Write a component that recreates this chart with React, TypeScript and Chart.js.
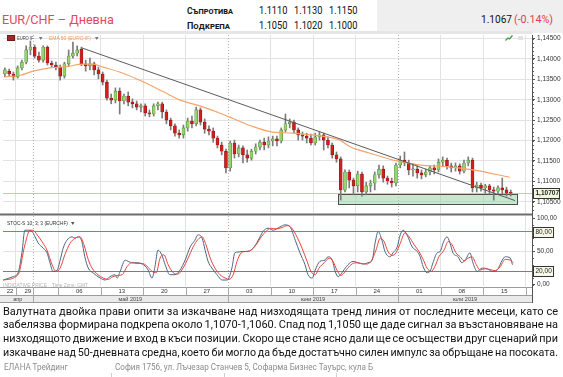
import React, { useEffect, useLayoutEffect, useRef } from 'react';
import { Chart, registerables } from 'chart.js';
Chart.register(...registerables);

const AXIS_FONT = '"Liberation Sans", Arial, sans-serif';
const TEXT_FONT = 'Roboto, "Noto Sans", sans-serif';

// ---------------- data ----------------
const opens = [
  1.1363, 1.1370, 1.1363, 1.1356, 1.1378, 1.1392, 1.1422, 1.1429, 1.1407, 1.1397,
  1.1429, 1.1390, 1.1385, 1.1380, 1.1358, 1.1388, 1.1407, 1.1414, 1.1424, 1.1388,
  1.1383, 1.1388, 1.1373, 1.1363, 1.1343, 1.1304, 1.1299, 1.1321, 1.1297, 1.1309,
  1.1294, 1.1290, 1.1282, 1.1285, 1.1268, 1.1265, 1.1285, 1.1290, 1.1270, 1.1250,
  1.1236, 1.1218, 1.1214, 1.1231, 1.1248, 1.1241, 1.1275, 1.1245, 1.1228, 1.1223,
  1.1206, 1.1189, 1.1174, 1.1133, 1.1194, 1.1167, 1.1182, 1.1165, 1.1157, 1.1174,
  1.1184, 1.1196, 1.1189, 1.1199, 1.1204, 1.1199, 1.1226, 1.1241, 1.1245, 1.1226,
  1.1214, 1.1211, 1.1206, 1.1194, 1.1209, 1.1214, 1.1201, 1.1189, 1.1165, 1.1155,
  1.1079, 1.1123, 1.1103, 1.1089, 1.1118, 1.1074, 1.1089, 1.1096, 1.1116, 1.1130,
  1.1108, 1.1101, 1.1096, 1.1140, 1.1152, 1.1145, 1.1128, 1.1130, 1.1121, 1.1116,
  1.1123, 1.1133, 1.1128, 1.1147, 1.1152, 1.1138, 1.1133, 1.1138, 1.1125, 1.1145,
  1.1152, 1.1084, 1.1091, 1.1084, 1.1089, 1.1079, 1.1076, 1.1084, 1.1079, 1.1074,
];
const highs = [
  1.1378, 1.1375, 1.1368, 1.1383, 1.1397, 1.1432, 1.1444, 1.1434, 1.1417, 1.1432,
  1.1432, 1.1395, 1.1392, 1.1385, 1.1392, 1.1422, 1.1441, 1.1432, 1.1429, 1.1397,
  1.1402, 1.1392, 1.1380, 1.1368, 1.1348, 1.1314, 1.1329, 1.1329, 1.1314, 1.1319,
  1.1302, 1.1297, 1.1290, 1.1290, 1.1275, 1.1290, 1.1294, 1.1294, 1.1275, 1.1255,
  1.1241, 1.1226, 1.1238, 1.1255, 1.1260, 1.1282, 1.1280, 1.1253, 1.1236, 1.1231,
  1.1211, 1.1196, 1.1179, 1.1199, 1.1201, 1.1189, 1.1187, 1.1177, 1.1179, 1.1192,
  1.1201, 1.1206, 1.1209, 1.1211, 1.1211, 1.1231, 1.1265, 1.1253, 1.1250, 1.1231,
  1.1221, 1.1218, 1.1216, 1.1218, 1.1221, 1.1218, 1.1209, 1.1194, 1.1172, 1.1160,
  1.1128, 1.1128, 1.1108, 1.1125, 1.1123, 1.1098, 1.1103, 1.1123, 1.1140, 1.1138,
  1.1113, 1.1108, 1.1145, 1.1162, 1.1172, 1.1152, 1.1143, 1.1138, 1.1128, 1.1130,
  1.1138, 1.1140, 1.1155, 1.1160, 1.1157, 1.1145, 1.1145, 1.1143, 1.1152, 1.1160,
  1.1157, 1.1098, 1.1096, 1.1093, 1.1093, 1.1086, 1.1089, 1.1108, 1.1086, 1.1079,
];
const lows = [
  1.1356, 1.1358, 1.1348, 1.1353, 1.1373, 1.1388, 1.1410, 1.1402, 1.1392, 1.1392,
  1.1385, 1.1380, 1.1373, 1.1348, 1.1353, 1.1383, 1.1402, 1.1407, 1.1383, 1.1370,
  1.1373, 1.1361, 1.1351, 1.1336, 1.1299, 1.1290, 1.1292, 1.1265, 1.1290, 1.1285,
  1.1280, 1.1275, 1.1270, 1.1260, 1.1258, 1.1260, 1.1275, 1.1255, 1.1241, 1.1226,
  1.1211, 1.1206, 1.1206, 1.1223, 1.1231, 1.1236, 1.1238, 1.1218, 1.1214, 1.1196,
  1.1182, 1.1165, 1.1121, 1.1125, 1.1157, 1.1160, 1.1145, 1.1147, 1.1152, 1.1167,
  1.1177, 1.1177, 1.1182, 1.1187, 1.1187, 1.1194, 1.1221, 1.1231, 1.1218, 1.1201,
  1.1201, 1.1194, 1.1189, 1.1189, 1.1201, 1.1177, 1.1182, 1.1157, 1.1147, 1.1054,
  1.1074, 1.1084, 1.1067, 1.1074, 1.1064, 1.1067, 1.1074, 1.1079, 1.1108, 1.1098,
  1.1093, 1.1086, 1.1089, 1.1133, 1.1138, 1.1116, 1.1113, 1.1108, 1.1106, 1.1111,
  1.1116, 1.1118, 1.1123, 1.1138, 1.1130, 1.1123, 1.1125, 1.1118, 1.1121, 1.1138,
  1.1074, 1.1074, 1.1076, 1.1071, 1.1069, 1.1054, 1.1069, 1.1069, 1.1064, 1.1064,
];
const closes = [
  1.1373, 1.1363, 1.1356, 1.1378, 1.1392, 1.1422, 1.1429, 1.1407, 1.1397, 1.1429,
  1.1390, 1.1385, 1.1380, 1.1358, 1.1388, 1.1407, 1.1414, 1.1422, 1.1388, 1.1383,
  1.1388, 1.1373, 1.1363, 1.1343, 1.1304, 1.1299, 1.1321, 1.1297, 1.1309, 1.1294,
  1.1290, 1.1282, 1.1285, 1.1268, 1.1265, 1.1285, 1.1290, 1.1270, 1.1250, 1.1236,
  1.1218, 1.1214, 1.1231, 1.1248, 1.1241, 1.1275, 1.1245, 1.1228, 1.1223, 1.1206,
  1.1189, 1.1174, 1.1133, 1.1194, 1.1167, 1.1182, 1.1165, 1.1157, 1.1174, 1.1184,
  1.1196, 1.1189, 1.1199, 1.1204, 1.1199, 1.1226, 1.1241, 1.1245, 1.1226, 1.1214,
  1.1211, 1.1206, 1.1194, 1.1209, 1.1214, 1.1201, 1.1189, 1.1165, 1.1155, 1.1079,
  1.1123, 1.1103, 1.1089, 1.1118, 1.1074, 1.1089, 1.1096, 1.1116, 1.1130, 1.1108,
  1.1101, 1.1096, 1.1140, 1.1152, 1.1145, 1.1128, 1.1130, 1.1121, 1.1116, 1.1123,
  1.1133, 1.1128, 1.1147, 1.1152, 1.1138, 1.1133, 1.1138, 1.1125, 1.1145, 1.1152,
  1.1084, 1.1091, 1.1084, 1.1089, 1.1079, 1.1076, 1.1084, 1.1079, 1.1071, 1.1071,
];

const emaIdx = [0, 3.6, 6.6, 10.6, 14.6, 18.1, 20.7, 23.1, 27.8, 32.5, 37.2, 41.2, 45.9, 50.6, 53.7,
  58.4, 62.4, 67.8, 75.8, 78.8, 81.2, 85.9, 92.3, 97.7, 104.0, 110.1, 118.8];
const emaVal = [1.1356, 1.1360, 1.1370, 1.1378, 1.1381, 1.1387, 1.1387, 1.1380, 1.1365, 1.1344, 1.1320,
  1.1299, 1.1285, 1.1267, 1.1254, 1.1234, 1.1222, 1.1218, 1.1209, 1.1201, 1.1185, 1.1169, 1.1150,
  1.1140, 1.1136, 1.1128, 1.1110];

const trendIdx = [18.1, 120.0];
const trendVal = [1.1427, 1.1053];
const zoneIdx = [78.4, 120.5];
const zoneVal = [1.1044, 1.1069];
const lastPrice = 1.10707;
const priceTicks = [1.105, 1.11, 1.115, 1.12, 1.125, 1.13, 1.135, 1.14, 1.145];
const priceMin = 1.10225;
const priceMax = 1.14586;

const kIdx = [
  -0.4, 1.9, 3.1, 4.0, 4.7, 5.4, 6.4, 7.1, 7.8, 9.0,
  9.9, 10.6, 11.3, 12.3, 13.0, 13.7, 14.6, 15.8, 16.5, 17.2,
  18.1, 18.8, 19.6, 20.7, 22.4, 23.6, 24.7, 25.9, 26.4, 27.1,
  28.3, 29.0, 30.1, 31.3, 32.3, 33.0, 33.7, 34.6, 35.3, 36.0,
  36.9, 37.7, 38.8, 40.0, 41.2, 42.4, 43.6, 44.7, 45.4, 46.4,
  47.1, 47.8, 48.7, 49.9, 51.1, 52.3, 53.4, 54.1, 54.8, 55.8,
  57.2, 58.4, 59.6, 60.7, 61.9, 63.1, 64.7, 65.9, 67.1, 68.3,
  69.4, 70.6, 71.3, 72.3, 73.0, 74.1, 75.3, 76.0, 77.0, 77.7,
  78.4, 79.5, 80.7, 81.9, 83.1, 84.3, 85.4, 86.4, 87.1, 87.8,
  88.7, 89.4, 90.6, 91.3, 92.3, 93.0, 93.7, 94.6, 95.8, 97.0,
  97.7, 98.4, 99.3, 100.0, 100.7, 101.7, 102.4, 103.1, 104.0, 104.7,
  105.4, 106.6, 107.5, 108.3, 109.4, 110.1, 111.1, 112.3, 113.4, 114.6,
  115.8, 117.0, 117.7, 118.9, 119.4,
];
const kVal = [
  7, 12, 18, 48, 82, 82, 80, 72, 63, 55,
  48, 33, 20, 22, 37, 55, 67, 72, 70, 72,
  65, 42, 25, 18, 10, 7, 12, 15, 10, 20,
  37, 35, 33, 33, 31, 28, 22, 10, 27, 52,
  45, 30, 15, 15, 22, 37, 57, 67, 75, 70,
  52, 35, 25, 15, 7, 7, 25, 48, 49, 50,
  50, 55, 67, 80, 85, 82, 87, 90, 87, 67,
  48, 30, 15, 10, 22, 35, 37, 42, 37, 20,
  12, 20, 30, 35, 33, 31, 33, 37, 63, 80,
  67, 50, 42, 48, 57, 75, 82, 75, 57, 50,
  42, 27, 18, 20, 33, 48, 50, 63, 72, 63,
  48, 42, 33, 37, 48, 33, 20, 25, 24, 20,
  22, 37, 42, 40, 30,
];
const dIdx = [
  -0.4, 3.1, 4.7, 5.9, 6.6, 7.6, 8.7, 9.9, 11.1, 12.0,
  13.0, 14.1, 15.3, 16.5, 17.7, 18.6, 19.6, 20.5, 21.9, 23.1,
  24.3, 25.4, 26.6, 27.6, 28.7, 29.9, 31.1, 32.3, 33.4, 34.6,
  35.6, 36.5, 37.4, 38.4, 39.6, 40.7, 41.9, 43.1, 44.3, 45.4,
  46.4, 47.3, 48.3, 49.4, 50.6, 51.8, 52.7, 53.7, 54.6, 55.6,
  56.7, 57.9, 59.1, 60.3, 61.4, 62.6, 63.8, 65.2, 66.4, 67.5,
  68.7, 69.9, 71.1, 72.0, 73.0, 73.9, 75.1, 76.3, 77.2, 78.1,
  79.1, 80.3, 81.4, 82.6, 83.8, 85.0, 86.1, 87.3, 88.3, 89.2,
  90.1, 91.1, 92.0, 93.0, 94.1, 95.1, 96.3, 97.4, 98.4, 99.3,
  100.3, 101.2, 102.1, 103.3, 104.3, 105.2, 106.1, 107.1, 108.0, 109.0,
  109.9, 110.9, 111.8, 113.0, 114.1, 115.3, 116.5, 117.7, 118.9, 119.6,
];
const dVal = [
  7, 15, 60, 82, 82, 75, 65, 52, 30, 20,
  25, 45, 62, 70, 72, 60, 38, 25, 15, 10,
  8, 12, 14, 15, 27, 33, 32, 32, 28, 20,
  18, 40, 45, 30, 18, 16, 25, 40, 57, 68,
  72, 60, 40, 25, 15, 10, 8, 15, 35, 48,
  50, 52, 60, 72, 80, 85, 84, 86, 89, 85,
  72, 55, 35, 20, 15, 25, 33, 40, 35, 22,
  14, 22, 30, 33, 32, 31, 35, 52, 70, 65,
  50, 44, 48, 62, 78, 72, 60, 50, 38, 25,
  20, 28, 42, 52, 65, 60, 48, 42, 36, 40,
  42, 30, 22, 24, 23, 21, 27, 38, 37, 33,
];
const stochTicks = [0, 20, 50, 80, 100];
const stochBands = [80, 20];

const xMin = -0.45;
const xMax = 124.0;
const weekStarts = [2.5, 12.5, 22.5, 32.5, 42.5, 52.5, 62.5, 72.5, 82.5, 92.5, 102.5, 112.5, 122.5];
const monthStarts = [6.5, 52.5, 92.5];
const dateLabels = ['22', '29', '06', '13', '20', '27', '03', '10', '17', '24', '01', '08', '15'];
const dateLabelPos = [1.2, 5.4, 17.5, 27.5, 37.5, 47.5, 57.5, 67.5, 77.5, 87.5, 97.5, 107.5, 117.5];
const monthLabels = ['апр', 'май 2019', 'юни 2019', 'юли 2019'];

const resistance = ['1.1110', '1.1130', '1.1150'];
const support = ['1.1050', '1.1020', '1.1000'];
const lastQuote = '1.1067';
const lastChange = '(-0.14%)';
const paragraph = [
  'Валутната двойка прави опити за изкачване над низходящата тренд линия от последните месеци, като се',
  'забелязва формирана подкрепа около 1,1070-1,1060. Спад под 1,1050 ще даде сигнал за възстановяване на',
  'низходящото движение и вход в къси позиции. Скоро ще стане ясно дали ще се осъществи друг сценарий при',
  'изкачване над 50-дневната средна, което би могло да бъде достатъчно силен импулс за обръщане на посоката.',
];

// ---------------- helpers ----------------
function FitText(p: any) {
  const ref = useRef<HTMLSpanElement>(null);
  useLayoutEffect(() => {
    const el = ref.current;
    if (!el) return;
    el.style.transform = 'translateY(-50%)';
    const w = el.getBoundingClientRect().width;
    const s = w > 0 ? p.width / w : 1;
    el.style.transform = `translateY(-50%) scaleX(${s})`;
  }, [p.text, p.width]);
  return (
    <span
      ref={ref}
      style={{
        position: 'absolute', left: p.left, top: p.cy, whiteSpace: 'pre', fontSize: p.size,
        lineHeight: 1, color: p.color || '#222', fontWeight: p.weight || 400,
        fontFamily: p.family || TEXT_FONT, fontVariant: p.variant || 'normal', transformOrigin: '0 50%',
      }}
    >{p.text}</span>
  );
}

function JustLine(p: any) {
  const ref = useRef<HTMLSpanElement>(null);
  useLayoutEffect(() => {
    const el = ref.current;
    if (!el) return;
    el.style.wordSpacing = '0px';
    el.style.transform = 'translateY(-50%)';
    const w = el.getBoundingClientRect().width;
    const n = (p.text.match(/ /g) || []).length;
    if (w <= p.width && n > 0) {
      el.style.wordSpacing = `${(p.width - w) / n}px`;
    } else if (w > 0) {
      const ws = Math.max(-0.8, (p.width - w) / Math.max(n, 1));
      el.style.wordSpacing = `${ws}px`;
      const w2 = w + ws * n;
      el.style.transform = `translateY(-50%) scaleX(${p.width / w2})`;
    }
  }, [p.text, p.width]);
  return (
    <span
      ref={ref}
      style={{
        position: 'absolute', left: p.left, top: p.cy, whiteSpace: 'pre', fontSize: p.size,
        lineHeight: 1, color: p.color || '#111', fontFamily: TEXT_FONT, transformOrigin: '0 50%',
      }}
    >{p.text}</span>
  );
}

function hline(ctx: CanvasRenderingContext2D, x1: number, x2: number, y: number) {
  ctx.beginPath(); ctx.moveTo(x1, y); ctx.lineTo(x2, y); ctx.stroke();
}
function vline(ctx: CanvasRenderingContext2D, x: number, y1: number, y2: number) {
  ctx.beginPath(); ctx.moveTo(x, y1); ctx.lineTo(x, y2); ctx.stroke();
}

const gridColor = '#e2e2e2';
const xGrid = (c: any) => (c.tick && monthStarts.includes(c.tick.value) ? 'rgba(0,0,0,0)' : gridColor);

function drawMonthLines(chart: any) {
  const { ctx, chartArea: a, scales } = chart;
  ctx.save();
  ctx.strokeStyle = '#b0b0b0';
  ctx.lineWidth = 1;
  ctx.setLineDash([1, 2]);
  for (const m of monthStarts) {
    const px = Math.round(scales.x.getPixelForValue(m)) + 0.5;
    vline(ctx, px, a.top, a.bottom);
  }
  ctx.restore();
}

const mainDeco = {
  id: 'mainDeco',
  beforeDatasetsDraw(chart: any) {
    drawMonthLines(chart);
    const { ctx, chartArea: a, scales } = chart;
    const x = scales.x, y = scales.y;
    ctx.save();
    const py = Math.round(y.getPixelForValue(lastPrice)) + 0.5;
    ctx.strokeStyle = '#f1b3b3';
    ctx.lineWidth = 1;
    hline(ctx, a.left, a.right, py);
    const zl = Math.round(x.getPixelForValue(zoneIdx[0])) + 0.5;
    const zr = Math.round(x.getPixelForValue(zoneIdx[1])) + 0.5;
    const zt = Math.round(y.getPixelForValue(zoneVal[1])) + 0.5;
    const zb = Math.round(y.getPixelForValue(zoneVal[0])) + 0.5;
    ctx.fillStyle = 'rgba(150, 214, 168, 0.55)';
    ctx.fillRect(zl, zt, zr - zl, zb - zt);
    ctx.strokeStyle = '#4e4e4e';
    ctx.strokeRect(zl, zt, zr - zl, zb - zt);
    ctx.restore();
  },
  afterDraw(chart: any) {
    const { ctx, chartArea: a, scales } = chart;
    const y = scales.y;
    ctx.save();
    ctx.strokeStyle = '#555';
    ctx.lineWidth = 1;
    for (let v = Math.ceil(y.min * 1000); v <= Math.floor(y.max * 1000); v++) {
      const py = Math.round(y.getPixelForValue(v / 1000)) + 0.5;
      hline(ctx, a.right, a.right + 2, py);
    }
    ctx.fillStyle = '#6c6c6c';
    ctx.fillRect(0, a.bottom + 0.5, a.right, 2);
    ctx.fillStyle = '#555';
    ctx.fillRect(a.right, a.bottom, 1, chart.height - a.bottom);
    const py = y.getPixelForValue(lastPrice);
    const by = Math.round(py - 5) + 0.5;
    ctx.fillStyle = '#f1f7dd';
    ctx.fillRect(a.right + 1.5, by, 26, 10);
    ctx.strokeStyle = '#333';
    ctx.strokeRect(a.right + 1.5, by, 26, 10);
    ctx.fillStyle = '#222';
    ctx.font = `bold 6.5px ${AXIS_FONT}`;
    ctx.textAlign = 'left';
    ctx.textBaseline = 'middle';
    ctx.fillText(lastPrice.toFixed(5).replace('.', ','), a.right + 3.5, by + 5);
    ctx.restore();
  },
};

const stochDeco = {
  id: 'stochDeco',
  beforeDatasetsDraw(chart: any) {
    drawMonthLines(chart);
  },
  afterDraw(chart: any) {
    const { ctx, chartArea: a, scales } = chart;
    const x = scales.x, y = scales.y;
    ctx.save();
    ctx.font = `6.5px ${AXIS_FONT}`;
    ctx.textAlign = 'left';
    ctx.textBaseline = 'middle';
    for (const v of stochBands) {
      const by = Math.round(y.getPixelForValue(v) - 5) + 0.5;
      ctx.fillStyle = '#f8f8e6';
      ctx.fillRect(a.right + 1.5, by, 20, 10);
      ctx.strokeStyle = '#333';
      ctx.lineWidth = 1;
      ctx.strokeRect(a.right + 1.5, by, 20, 10);
      ctx.fillStyle = '#222';
      ctx.fillText(v.toFixed(2).replace('.', ','), a.right + 3.5, by + 5);
    }
    // minor ticks on the oscillator axis
    ctx.strokeStyle = '#555';
    for (let v = 0; v <= 100; v += 10) {
      const py = Math.round(y.getPixelForValue(v)) + 0.5;
      hline(ctx, a.right, a.right + 2, py);
    }
    // time axis rows
    const r0 = Math.round(a.bottom) + 1;
    const r1 = r0 + 8;
    const r2 = r1 + 7;
    ctx.fillStyle = '#ffffff';
    ctx.fillRect(0, r0, a.right, 8);
    ctx.fillStyle = '#eaeaea';
    ctx.fillRect(0, r1, a.right, 7);
    ctx.strokeStyle = '#9c9c9c';
    hline(ctx, 0, a.right, r0 + 0.5);
    hline(ctx, 0, a.right, r1 + 0.5);
    hline(ctx, 0, a.right, r2 + 0.5);
    ctx.strokeStyle = '#a8a8a8';
    for (const w of weekStarts) {
      const px = Math.round(x.getPixelForValue(w)) + 0.5;
      if (px < a.right) vline(ctx, px, r0, r1);
    }
    for (const m of monthStarts) {
      const px = Math.round(x.getPixelForValue(m)) + 0.5;
      vline(ctx, px, r0, r2);
    }
    ctx.fillStyle = '#333';
    ctx.textAlign = 'center';
    ctx.font = `6px ${AXIS_FONT}`;
    dateLabels.forEach((t, k) => ctx.fillText(t, x.getPixelForValue(dateLabelPos[k]), (r0 + r1) / 2 + 0.5));
    const bounds = [xMin, ...monthStarts, xMax];
    ctx.font = `5.5px ${AXIS_FONT}`;
    ctx.fillStyle = '#444';
    monthLabels.forEach((t, k) => {
      const cx = (x.getPixelForValue(bounds[k]) + x.getPixelForValue(bounds[k + 1])) / 2;
      ctx.fillText(t, cx, (r1 + r2) / 2 + 0.5);
    });
    ctx.fillStyle = '#555';
    ctx.fillRect(a.right, 0, 1, r2 + 1);
    ctx.restore();
  },
};

function zeroPad(s: any) {
  s.paddingTop = 0; s.paddingBottom = 0; s.paddingLeft = 0; s.paddingRight = 0;
}

export default function App() {
  const mainRef = useRef<HTMLCanvasElement>(null);
  const stochRef = useRef<HTMLCanvasElement>(null);

  useEffect(() => {
    document.body.style.margin = '0';
    Chart.defaults.font.family = AXIS_FONT;
    const idx = opens.map((_, i) => i);
    const up = idx.map((i) => closes[i] >= opens[i]);

    const xScale = (ticks: number[]) => ({
      type: 'linear' as const, min: xMin, max: xMax, offset: false,
      afterBuildTicks: (s: any) => { s.ticks = ticks.map((v) => ({ value: v })); },
      afterFit: (s: any) => { s.height = 0; zeroPad(s); },
      ticks: { display: false },
      grid: { color: xGrid, drawTicks: false, offset: false },
      border: { display: false },
    });

    const main = new Chart(mainRef.current!, {
      type: 'bar',
      data: {
        datasets: [
          {
            type: 'line', label: 'trend', data: trendIdx.map((v, k) => ({ x: v, y: trendVal[k] })),
            borderColor: '#5b5b5b', borderWidth: 1, pointRadius: 0, order: 0,
          } as any,
          {
            type: 'line', label: 'EMA 50 (EURO IF)', data: emaIdx.map((v, k) => ({ x: v, y: emaVal[k] })),
            borderColor: '#f4a46b', borderWidth: 1.2, pointRadius: 0, cubicInterpolationMode: 'monotone', order: 1,
          } as any,
          {
            type: 'bar', label: 'body', data: idx.map((i) => ({ x: i, y: [opens[i], closes[i]] })),
            backgroundColor: up.map((u) => (u ? '#95d46e' : '#d41e1e')),
            borderColor: up.map((u) => (u ? '#4f8b38' : '#8d1515')),
            borderWidth: 0.6, borderSkipped: false, barThickness: 3, minBarLength: 1, grouped: false, order: 2,
          } as any,
          {
            type: 'bar', label: 'wick', data: idx.map((i) => ({ x: i, y: [lows[i], highs[i]] })),
            backgroundColor: '#7b7b7b', barThickness: 1, grouped: false, order: 3,
          } as any,
        ],
      },
      options: {
        responsive: false, animation: false,
        layout: { padding: { left: 3, top: 3, bottom: 3, right: 0 } },
        plugins: { legend: { display: false }, tooltip: { enabled: false } },
        scales: {
          x: xScale(weekStarts) as any,
          y: {
            position: 'right', min: priceMin, max: priceMax,
            afterBuildTicks: (s: any) => { s.ticks = priceTicks.map((v) => ({ value: v })); },
            afterFit: (s: any) => { s.width = 31; zeroPad(s); },
            ticks: {
              callback: (v: any) => Number(v).toFixed(5).replace('.', ','),
              font: { size: 6.5, family: AXIS_FONT }, color: '#333', padding: 2,
            },
            grid: { color: gridColor, tickLength: 3, tickColor: '#555' },
            border: { display: true, color: '#555' },
          } as any,
        },
      },
      plugins: [mainDeco],
    });

    const stoch = new Chart(stochRef.current!, {
      type: 'line',
      data: {
        datasets: [
          {
            label: '%D', data: dIdx.map((v, k) => ({ x: v, y: dVal[k] })), borderColor: '#e8433d',
            borderWidth: 1, pointRadius: 0, cubicInterpolationMode: 'monotone', order: 0,
          } as any,
          {
            label: '%K', data: kIdx.map((v, k) => ({ x: v, y: kVal[k] })), borderColor: '#4c6686',
            borderWidth: 1, pointRadius: 0, cubicInterpolationMode: 'monotone', order: 1,
          } as any,
        ],
      },
      options: {
        responsive: false, animation: false,
        layout: { padding: { left: 3, top: 4, bottom: 17, right: 0 } },
        plugins: { legend: { display: false }, tooltip: { enabled: false } },
        scales: {
          x: xScale(weekStarts) as any,
          y: {
            position: 'right', min: -2, max: 103.4,
            afterBuildTicks: (s: any) => { s.ticks = stochTicks.map((v) => ({ value: v })); },
            afterFit: (s: any) => { s.width = 31; zeroPad(s); },
            ticks: {
              callback: (v: any) => Number(v).toFixed(2).replace('.', ','),
              font: { size: 6.5, family: AXIS_FONT }, color: '#333', padding: 2,
            },
            grid: {
              color: (c: any) => {
                const v = c.tick && c.tick.value;
                if (v === 80) return '#e65a55';
                if (v === 20) return '#7d7d7d';
                if (v === 50) return gridColor;
                return 'rgba(0,0,0,0)';
              },
              tickLength: 3, tickColor: '#555',
            },
            border: { display: true, color: '#555' },
          } as any,
        },
      },
      plugins: [stochDeco],
    });

    return () => { main.destroy(); stoch.destroy(); };
  }, []);

  return (
    <div style={{ position: 'absolute', left: 0, top: 0, width: 563, height: 377, overflow: 'hidden', background: '#fff' }}>
      {/* header */}
      <FitText text="EUR/CHF – Дневна" left={2} cy={19} width={112} size={13} color="#e3475d" />
      <FitText text="Съпротива" left={187} cy={11} width={46} size={9} weight={700} variant="small-caps" color="#1a1a1a" />
      <FitText text="Подкрепа" left={187} cy={26} width={43} size={9} weight={700} variant="small-caps" color="#1a1a1a" />
      {resistance.map((t, k) => (
        <FitText key={'r' + k} text={t} left={[258.5, 293.7, 328.5][k]} cy={11} width={28.5} size={10} color="#111" />
      ))}
      {support.map((t, k) => (
        <FitText key={'s' + k} text={t} left={[258.5, 293.7, 328.5][k]} cy={26} width={28.5} size={10} color="#111" />
      ))}
      <div style={{ position: 'absolute', left: 377, top: 0, width: 186, height: 33, background: '#efefef' }} />
      <FitText text={lastQuote} left={481} cy={19} width={31} size={11} color="#111" />
      <FitText text={lastChange} left={514} cy={19} width={39} size={11} color="#e63b4b" />

      <div style={{ position: 'absolute', left: 0, top: 31, width: 532, height: 3, background: '#e6e6e6' }} />

      {/* charts */}
      <canvas ref={mainRef} width={563} height={184} style={{ position: 'absolute', left: 0, top: 32, width: 563, height: 184 }} />
      <canvas ref={stochRef} width={563} height={91} style={{ position: 'absolute', left: 0, top: 212, width: 563, height: 91 }} />

      {/* chart toolbars */}
      <div style={{ position: 'absolute', left: 7, top: 35, width: 8, height: 6, background: '#a02a2a', border: '0.5px solid #6b1c1c', boxSizing: 'border-box' }} />
      <FitText text="EURO IF" left={17} cy={38} width={16.5} size={6} color="#444" family={AXIS_FONT} />
      <FitText text="▾" left={38.5} cy={38} width={3.5} size={6} color="#777" family={AXIS_FONT} />
      <FitText text="EMA 50 (EURO IF)" left={49} cy={38} width={42} size={6} color="#ee9656" family={AXIS_FONT} />
      <FitText text="▾" left={94.5} cy={38} width={3.5} size={6} color="#777" family={AXIS_FONT} />
      <svg style={{ position: 'absolute', left: 505, top: 35 }} width={8} height={6}>
        <polyline points="0.5,5.5 3,3 4.5,4 7.5,0.5" fill="none" stroke="#3c9a37" strokeWidth={1.2} />
      </svg>
      <div style={{ position: 'absolute', left: 518, top: 36, width: 5, height: 4, background: '#e2e2e2' }} />
      <FitText text="STOC-S 10; 3; 3 (EURCHF)" left={7} cy={223} width={61} size={6} color="#333" family={AXIS_FONT} />
      <FitText text="▾" left={70.5} cy={223} width={3.5} size={6} color="#555" family={AXIS_FONT} />
      <FitText text="INDICATIVE PRICE" left={3} cy={284.5} width={44} size={5} color="#b3b3b3" family={AXIS_FONT} />
      <FitText text="Time Zone: GMT" left={52} cy={284.5} width={36} size={5} color="#b3b3b3" family={AXIS_FONT} />

      {/* commentary */}
      {paragraph.map((t, k) => (
        <JustLine key={'p' + k} text={t} left={3} cy={310.5 + 13.8 * k} width={555} size={11} color="#111" />
      ))}
      <FitText text="ЕЛАНА Трейдинг" left={3.6} cy={367} width={64} size={8.5} color="#8c8c8c" />
      <FitText text="София 1756, ул. Лъчезар Станчев 5, Софарма Бизнес Тауърс, кула Б" left={115} cy={367} width={258} size={8.5} color="#8c8c8c" />
      {[111, 224, 336].map((x) => (
        <div key={'sep' + x} style={{ position: 'absolute', left: x, top: 373, width: 1, height: 4, background: '#cfcfcf' }} />
      ))}
    </div>
  );
}
